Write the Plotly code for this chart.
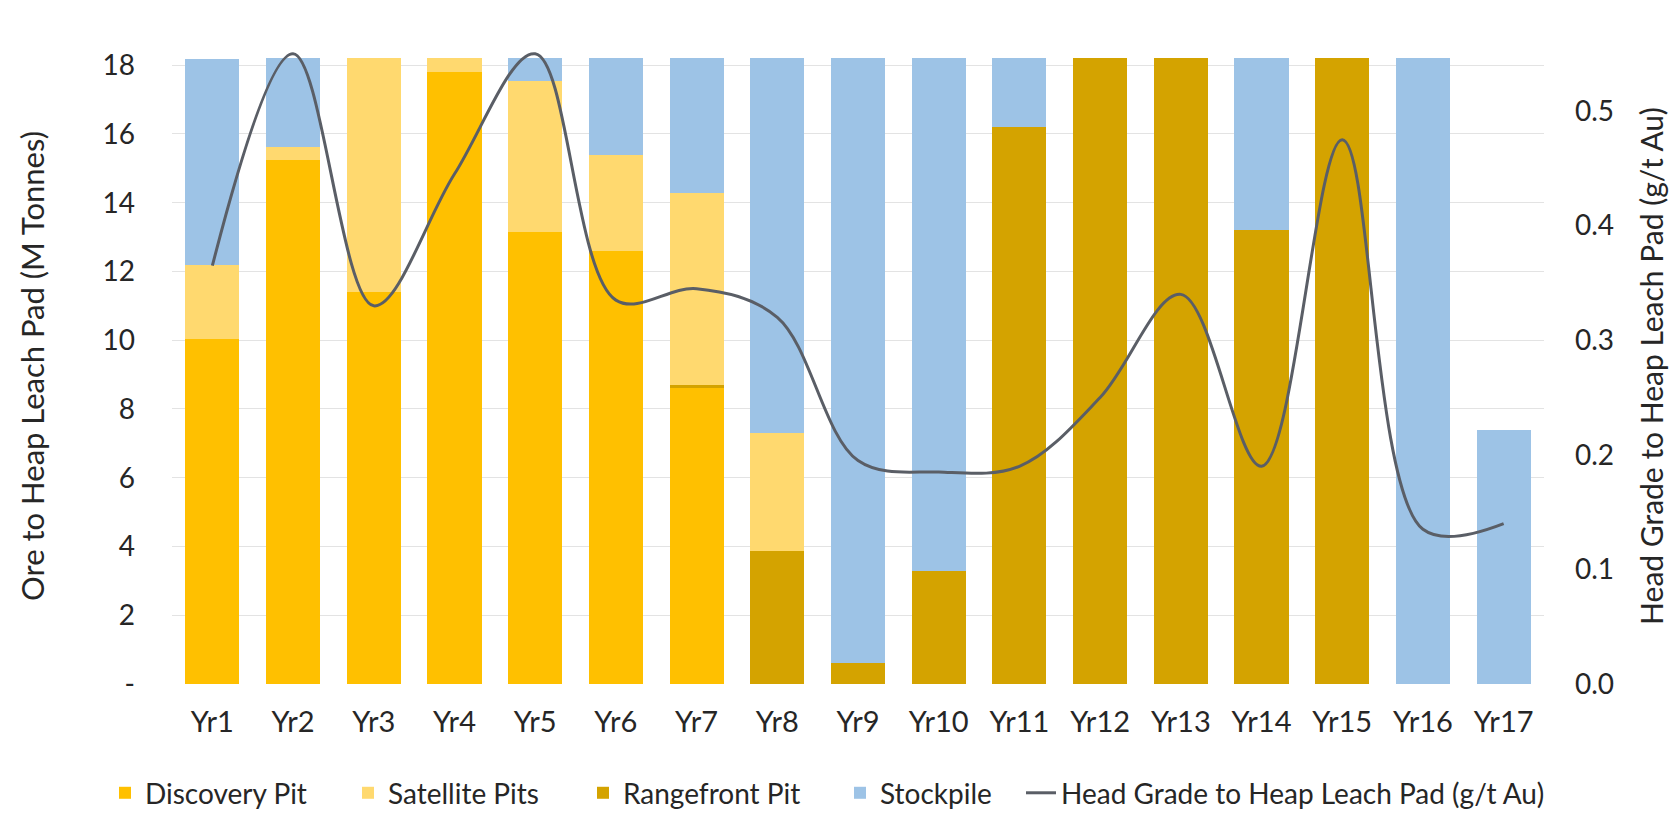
import plotly.graph_objects as go

years = ["Yr1", "Yr2", "Yr3", "Yr4", "Yr5", "Yr6", "Yr7", "Yr8", "Yr9", "Yr10",
         "Yr11", "Yr12", "Yr13", "Yr14", "Yr15", "Yr16", "Yr17"]

discovery = [10.05, 15.25, 11.4, 17.8, 13.15, 12.6, 8.6, 0, 0, 0, 0, 0, 0, 0, 0, 0, 0]
rangefront = [0, 0, 0, 0, 0, 0, 0.1, 3.86, 0.6, 3.3, 16.2, 18.2, 18.2, 13.22, 18.2, 0, 0]
satellite = [2.13, 0.38, 6.8, 0.4, 4.4, 2.79, 5.58, 3.45, 0, 0, 0, 0, 0, 0, 0, 0, 0]
stockpile = [6.0, 2.57, 0, 0, 0.65, 2.81, 3.92, 10.89, 17.6, 14.9, 2.0, 0, 0, 4.98, 0, 18.2, 7.4]
head_grade = [0.365, 0.55, 0.33, 0.445, 0.55, 0.335, 0.345, 0.32, 0.195, 0.185,
              0.19, 0.25, 0.34, 0.19, 0.475, 0.135, 0.14]

left_ticks = [0, 2, 4, 6, 8, 10, 12, 14, 16, 18]
left_ticktext = ["-", "2", "4", "6", "8", "10", "12", "14", "16", "18"]
right_ticks = [0.0, 0.1, 0.2, 0.3, 0.4, 0.5]

FONT = "Lato"
TXT = "#262626"
W, H = 1678, 822
L, R, T, B = 164, 1536, 40, 693

fig = go.Figure()
fig.add_trace(go.Bar(x=years, y=discovery, name="Discovery Pit", legend="legend",
                     marker=dict(color="#FFC000", line=dict(width=0))))
fig.add_trace(go.Bar(x=years, y=rangefront, name="Rangefront Pit", legend="legend3",
                     marker=dict(color="#D4A300", line=dict(width=0))))
fig.add_trace(go.Bar(x=years, y=satellite, name="Satellite Pits", legend="legend2",
                     marker=dict(color="#FFD96F", line=dict(width=0))))
fig.add_trace(go.Bar(x=years, y=stockpile, name="Stockpile", legend="legend4",
                     marker=dict(color="#9DC3E6", line=dict(width=0))))
fig.add_trace(go.Scatter(x=years, y=head_grade, name="Head Grade to Heap Leach Pad (g/t Au)",
                         mode="lines", yaxis="y2", legend="legend5",
                         line=dict(color="#5A5E66", width=3, shape="spline", smoothing=1.0)))
for tr in fig.data:
    tr.showlegend = True

ymax = 18.5
legend_y_px = 805
text_starts = {"legend": 142, "legend2": 385, "legend3": 620, "legend4": 877, "legend5": 1058}


def leg(px):
    return dict(orientation="h", visible=True,
                x=(px - 45 - L) / (R - L), xanchor="left",
                y=-(legend_y_px - B) / (B - T), yanchor="middle",
                font=dict(size=28, color=TXT), bgcolor="rgba(0,0,0,0)", itemwidth=30)


fig.update_layout(
    width=W, height=H, showlegend=True,
    barmode="stack", bargap=0.33,
    plot_bgcolor="white", paper_bgcolor="white",
    margin=dict(l=L, r=W - R, t=T, b=H - B),
    font=dict(family=FONT, size=29, color=TXT),
    xaxis=dict(showgrid=False, showline=False, ticks="", tickfont=dict(size=29, color=TXT),
               ticklabelstandoff=18),
    yaxis=dict(range=[0, ymax], tickvals=left_ticks, ticktext=left_ticktext,
               showgrid=True, gridcolor="#E3E3E3", gridwidth=1, zeroline=False,
               showline=False, tickfont=dict(size=28, color=TXT), ticklabelstandoff=36,
               title=dict(text="Ore to Heap Leach Pad (M Tonnes)", font=dict(size=31, color=TXT),
                          standoff=48)),
    yaxis2=dict(range=[0, ymax * 0.03], overlaying="y", side="right",
                tickvals=right_ticks, tickformat=".1f", showgrid=False, zeroline=False,
                showline=False, tickfont=dict(size=28, color=TXT), ticklabelstandoff=30,
                title=dict(text="Head Grade to Heap Leach Pad (g/t Au)",
                           font=dict(size=30, color=TXT), standoff=28)),
    legend=leg(text_starts["legend"]),
    legend2=leg(text_starts["legend2"]),
    legend3=leg(text_starts["legend3"]),
    legend4=leg(text_starts["legend4"]),
    legend5=leg(text_starts["legend5"]),
)

fig.write_html("out.html")
